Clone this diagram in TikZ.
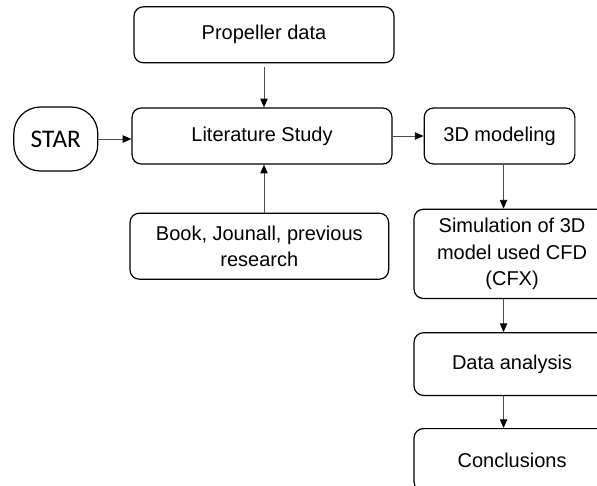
\documentclass[tikz,border=0pt]{standalone}
\usepackage{fontspec}
\setmainfont{Liberation Sans}
\newfontfamily\starfont{Carlito}
\usetikzlibrary{positioning}
\usetikzlibrary{arrows.meta}

\begin{document}
\begin{tikzpicture}[x=0.75pt, y=-0.75pt,
    stepbox/.style={rectangle, rounded corners=7pt, draw=black, line width=0.9pt, align=center,
        font=\fontsize{15}{19}\selectfont, inner sep=2pt},
    startbox/.style={rectangle, rounded corners=20pt, draw=black, line width=0.9pt,
        font=\starfont\fontsize{19}{22}\selectfont, minimum width=63pt, minimum height=48pt},
    flow/.style={-{Triangle[length=6.5pt, width=5.5pt, color=black]}, draw=black!70, line width=0.6pt}]
        \useasboundingbox (0,0) rectangle (597,486);
        \clip (0,0) rectangle (597,486);

        \node[stepbox, minimum width=195pt, minimum height=42pt]  (lit)   at (262,136) {Literature Study};
        \node[stepbox, minimum width=195pt, minimum height=42pt]  (prop)  [above=33pt of lit, xshift=1.5pt] {Propeller data};
        \node[stepbox, minimum width=194pt, minimum height=49.5pt] (book)  [below=36pt of lit, xshift=-2pt] {Book, Jounall, previous\\research};
        \node[startbox]                                            (star)  [left=24.75pt of lit, yshift=-2.25pt] {STAR};
        \node[stepbox, minimum width=113pt, minimum height=42pt]  (model) [right=23.25pt of lit] {3D modeling};
        \node[stepbox, minimum width=147pt, minimum height=67pt, font=\fontsize{15}{20}\selectfont]
                                                                   (sim)   [below=33pt of model, xshift=9.4pt] {Simulation of 3D\\model used CFD\\(CFX)};
        \node[stepbox, minimum width=147pt, minimum height=47pt]  (data)  [below=24.75pt of sim] {Data analysis};
        \node[stepbox, minimum width=147pt, minimum height=47pt]  (concl) [below=24pt of data] {Conclusions};
        \coordinate (down) at ([xshift=3pt]model.south);

        \path[flow] ([yshift=-3pt]prop.south) -- (prop.south |- lit.north);
        \path[flow] (book.north -| prop.south) -- (lit.south -| prop.south);
        \path[flow] (star.east) -- (star.east -| lit.west);
        \path[flow] (lit.east) -- (model.west);
        \path[flow] (down) -- (down |- sim.north);
        \path[flow] (sim.south -| down) -- (data.north -| down);
        \path[flow] (data.south -| down) -- (concl.north -| down);

    \end{tikzpicture}
\end{document}
